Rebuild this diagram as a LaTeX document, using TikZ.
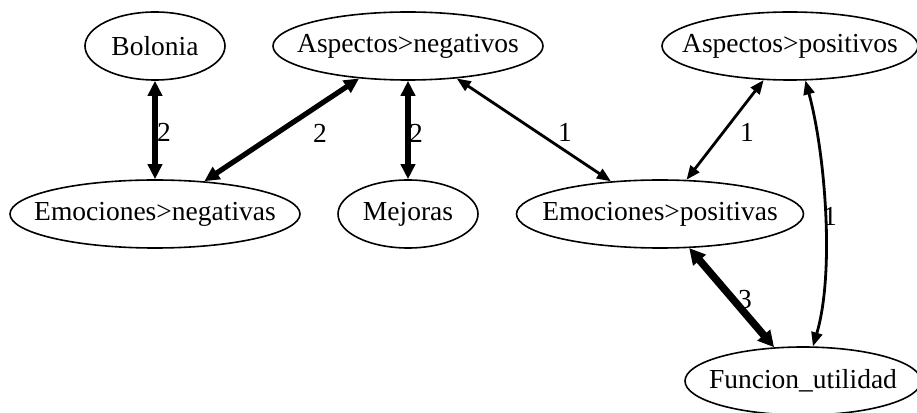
\documentclass[tikz,border=0pt]{standalone}
\usepackage{fontspec}
\setmainfont{Liberation Serif}
\usetikzlibrary{shapes.geometric,arrows.meta}
\newcommand{\zw}[1]{\makebox[0pt][c]{#1}}
\tikzset{
  ell/.style={draw, ellipse, line width=1.6pt, inner sep=0pt, minimum height=68pt, font=\fontsize{27.5}{30}\selectfont},
  lbl/.style={font=\fontsize{27.5}{30}\selectfont, inner sep=0pt},
  wone/.style={{Triangle[length=14pt,width=11pt]}-{Triangle[length=14pt,width=11pt]}, line width=2.8pt},
  wtwo/.style={{Triangle[length=15pt,width=14pt]}-{Triangle[length=15pt,width=14pt]}, line width=5.2pt},
  wthree/.style={{Triangle[length=16pt,width=16pt]}-{Triangle[length=16pt,width=16pt]}, line width=7.5pt},
}
\begin{document}
\begin{tikzpicture}[x=1pt,y=1pt]
\useasboundingbox (0,0) rectangle (917,412);
\node[ell, minimum width=140pt] (bo) at (155,366) {\zw{Bolonia}};
\node[ell, minimum width=270pt] (an) at (408,366) {\zw{Aspectos>negativos}};
\node[ell, minimum width=256pt] (ap) at (790,366) {\zw{Aspectos>positivos}};
\node[ell, minimum width=290pt] (en) at (155,198) {\zw{Emociones>negativas}};
\node[ell, minimum width=140pt] (me) at (408,198) {\zw{Mejoras}};
\node[ell, minimum width=287pt] (ep) at (660,198) {\zw{Emociones>positivas}};
\node[ell, minimum width=236pt] (fu) at (803,31) {\zw{Funcion\_utilidad}};

\draw[wtwo] (bo) -- (en);
\draw[wtwo] (an) -- (en);
\draw[wtwo] (an) -- (me);
\draw[wone] (an) -- (ep);
\draw[wone] (ap) -- (ep);
\draw[wone] (ap.-66) .. controls (825,260) and (835,140) .. (fu.74);
\draw[wthree] (ep) -- (fu);

\node[lbl] (l1) at (164,280) {2};
\node[lbl] (l2) at (320,279) {2};
\node[lbl] (l3) at (416,279) {2};
\node[lbl] (l4) at (565,280) {1};
\node[lbl] (l5) at (747,280) {1};
\node[lbl] (l6) at (830,196) {1};
\node[lbl] (l7) at (745,112) {3};
\end{tikzpicture}
\end{document}
